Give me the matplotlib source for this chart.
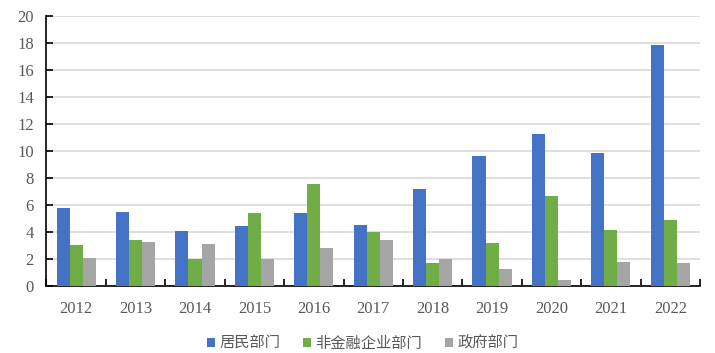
import matplotlib
matplotlib.use("Agg")
import matplotlib.pyplot as plt
import numpy as np
from matplotlib.ticker import FixedLocator

years = ["2012", "2013", "2014", "2015", "2016", "2017", "2018", "2019", "2020", "2021", "2022"]
household = [5.78, 5.48, 4.07, 4.44, 5.41, 4.52, 7.19, 9.63, 11.26, 9.85, 17.85]
nonfin_corp = [3.04, 3.41, 2.00, 5.41, 7.56, 4.00, 1.70, 3.19, 6.67, 4.15, 4.89]
government = [2.07, 3.26, 3.11, 2.00, 2.81, 3.41, 2.00, 1.26, 0.44, 1.78, 1.70]
series_names = ["居民部门", "非金融企业部门", "政府部门"]
colors = ["#4472C4", "#70AD47", "#A5A5A5"]

plt.rcParams['font.family'] = ['Liberation Serif', 'Noto Sans CJK SC']

fig = plt.figure(figsize=(7.15, 3.53), dpi=100)
ax = fig.add_axes([0.065, 0.19, 0.914, 0.765])

x = np.arange(len(years))
w = 0.22
for i, (vals, name, c) in enumerate(zip([household, nonfin_corp, government], series_names, colors)):
    ax.bar(x + (i - 1) * w, vals, width=w, color=c, label=name, zorder=3)

ax.set_xlim(-0.5, len(years) - 0.5)
ax.set_ylim(0, 20)
ax.set_yticks(np.arange(0, 21, 2))
ax.yaxis.grid(True, color="#D9D9D9", linewidth=1.2, zorder=0)
ax.set_axisbelow(True)

ax.set_xticks(x)
ax.set_xticklabels(years)
ax.xaxis.set_minor_locator(FixedLocator(np.arange(-0.5, len(years), 1.0)))
ax.tick_params(axis='x', which='major', length=0, pad=11, labelsize=12, labelcolor="#595959")
ax.tick_params(axis='x', which='minor', direction='in', length=5, width=1.2, color='black')
ax.tick_params(axis='y', direction='in', length=5, width=1.2, color='black', labelsize=12, labelcolor="#595959", pad=9)

for s in ['top', 'right']:
    ax.spines[s].set_visible(False)
for s in ['left', 'bottom']:
    ax.spines[s].set_color('black')
    ax.spines[s].set_linewidth(1.2)

leg = fig.legend(loc='lower center', bbox_to_anchor=(0.507, -0.035), ncol=3, frameon=False,
                 prop={'family': ['Noto Sans CJK SC'], 'size': 11},
                 handlelength=0.55, handleheight=0.55, handletextpad=0.25, columnspacing=1.5,
                 labelcolor="#595959")

fig.savefig("out.png", dpi=100)
